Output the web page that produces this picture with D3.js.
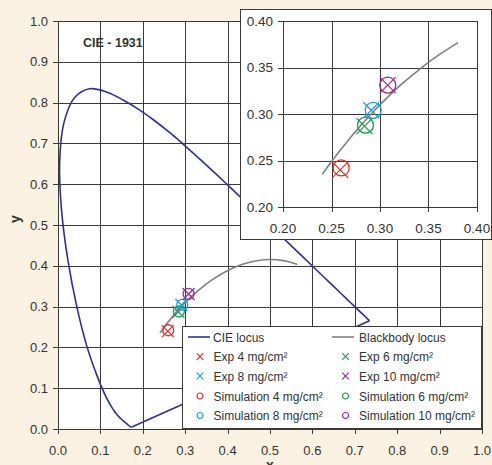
<!DOCTYPE html>
<html>
<head>
<meta charset="utf-8">
<script src="https://cdn.jsdelivr.net/npm/d3@7"></script>
<style>
  html, body { margin: 0; padding: 0; background: #fcf2e1; }
  svg { display: block; font-family: Arial, "Liberation Sans", sans-serif; }
</style>
</head>
<body>
<script>
// CIE 1931 spectral locus, 380..700 nm (5 nm steps)
var cieX = [0.1741, 0.1740, 0.1738, 0.1736, 0.1733, 0.1730, 0.1726, 0.1721, 0.1714, 0.1703,
    0.1689, 0.1669, 0.1644, 0.1611, 0.1566, 0.1510, 0.1440, 0.1355, 0.1241, 0.1096,
    0.0913, 0.0687, 0.0454, 0.0235, 0.0082, 0.0039, 0.0139, 0.0389, 0.0743, 0.1142,
    0.1547, 0.1929, 0.2296, 0.2658, 0.3016, 0.3373, 0.3731, 0.4087, 0.4441, 0.4788,
    0.5125, 0.5448, 0.5752, 0.6029, 0.6270, 0.6482, 0.6658, 0.6801, 0.6915, 0.7006,
    0.7079, 0.7140, 0.7190, 0.7230, 0.7260, 0.7283, 0.7300, 0.7311, 0.7320, 0.7327,
    0.7334, 0.7340, 0.7344, 0.7346, 0.7347];
var cieY = [0.0050, 0.0050, 0.0049, 0.0049, 0.0048, 0.0048, 0.0048, 0.0048, 0.0051, 0.0058,
    0.0069, 0.0086, 0.0109, 0.0138, 0.0177, 0.0227, 0.0297, 0.0399, 0.0578, 0.0868,
    0.1327, 0.2007, 0.2950, 0.4127, 0.5384, 0.6548, 0.7502, 0.8120, 0.8338, 0.8262,
    0.8059, 0.7816, 0.7543, 0.7243, 0.6923, 0.6589, 0.6245, 0.5896, 0.5547, 0.5202,
    0.4866, 0.4544, 0.4242, 0.3965, 0.3725, 0.3514, 0.3340, 0.3197, 0.3083, 0.2993,
    0.2920, 0.2859, 0.2809, 0.2770, 0.2740, 0.2717, 0.2700, 0.2689, 0.2680, 0.2673,
    0.2666, 0.2660, 0.2656, 0.2654, 0.2653];

// blackbody locus, infinite T down to ~1667 K
var bbX = [0.2404, 0.2457, 0.2525, 0.2602, 0.2686, 0.2807, 0.2952, 0.3064, 0.3220, 0.3450,
    0.3607, 0.3805, 0.4053, 0.4366, 0.4593, 0.4857, 0.5032, 0.5269, 0.5438, 0.5646];
var bbY = [0.2351, 0.2427, 0.2523, 0.2626, 0.2735, 0.2883, 0.3048, 0.3166, 0.3318, 0.3516,
    0.3635, 0.3767, 0.3909, 0.4042, 0.4107, 0.4147, 0.4153, 0.4133, 0.4097, 0.4029];

// samples: 4, 6, 8, 10 mg/cm2
var doses = ["4", "6", "8", "10"];
var expX = [0.259, 0.284, 0.291, 0.308];
var expY = [0.240, 0.287, 0.304, 0.331];
var simX = [0.260, 0.285, 0.293, 0.308];
var simY = [0.242, 0.288, 0.304, 0.331];
var colors = ["#ee2a24", "#11a04b", "#1b9ce0", "#9c2a96"];

var mainTicks = d3.range(0, 11).map((i) => i / 10);
var insetTicks = [0.20, 0.25, 0.30, 0.35, 0.40];

var width = 492, height = 465;
var svg = d3.select("body").append("svg").attr("width", width).attr("height", height);
svg.append("rect").attr("width", width).attr("height", height).attr("fill", "#fcf2e1");

var gridColor = "#3a3a3a";
var locusColor = "#2e3192";

var cie = cieX.map((x, i) => ({x: x, y: cieY[i]}));
var purple = [cie[cie.length - 1], cie[0]];
var bb = bbX.map((x, i) => ({x: x, y: bbY[i]}));
var exp = expX.map((x, i) => ({x: x, y: expY[i], c: colors[i]}));
var sim = simX.map((x, i) => ({x: x, y: simY[i], c: colors[i]}));

function drawPlot(g, x, y, ticks, fmt, opt) {
    var x0 = x.range()[0], x1 = x.range()[1], y0 = y.range()[0], y1 = y.range()[1];
    g.append("rect").attr("x", x0).attr("y", y1).attr("width", x1 - x0).attr("height", y0 - y1)
        .attr("fill", "white");
    // grid
    g.append("g").selectAll("line").data(ticks).enter().append("line")
        .attr("x1", (d) => Math.round(x(d)) + 0.5).attr("x2", (d) => Math.round(x(d)) + 0.5)
        .attr("y1", y1).attr("y2", y0 + 5)
        .attr("stroke", gridColor).attr("stroke-width", 1);
    g.append("g").selectAll("line").data(ticks).enter().append("line")
        .attr("y1", (d) => Math.round(y(d)) + 0.5).attr("y2", (d) => Math.round(y(d)) + 0.5)
        .attr("x1", x0 - 5).attr("x2", x1)
        .attr("stroke", gridColor).attr("stroke-width", 1);
    // tick labels
    g.append("g").selectAll("text").data(ticks).enter().append("text")
        .attr("x", x0 - 10).attr("y", (d) => y(d) + 4.5)
        .attr("text-anchor", "end").attr("font-size", opt.fs).attr("fill", "#333")
        .text(fmt);
    g.append("g").selectAll("text").data(ticks).enter().append("text")
        .attr("x", (d) => x(d)).attr("y", y0 + opt.xlab)
        .attr("text-anchor", "middle").attr("font-size", opt.fs).attr("fill", "#333")
        .text(fmt);

    var clipId = "clip" + opt.id;
    g.append("clipPath").attr("id", clipId).append("rect")
        .attr("x", x0).attr("y", y1).attr("width", x1 - x0).attr("height", y0 - y1);
    var body = g.append("g").attr("clip-path", "url(#" + clipId + ")");
    var line = d3.line().x((d) => x(d.x)).y((d) => y(d.y));
    var smooth = d3.line().x((d) => x(d.x)).y((d) => y(d.y)).curve(d3.curveCatmullRom.alpha(0.5));
    if (opt.cie) {
        body.append("path").attr("d", smooth(cie)).attr("fill", "none")
            .attr("stroke", locusColor).attr("stroke-width", 1.6);
        body.append("path").attr("d", line(purple)).attr("fill", "none")
            .attr("stroke", locusColor).attr("stroke-width", 1.6);
    }
    body.append("path").attr("d", smooth(opt.bb)).attr("fill", "none")
        .attr("stroke", "#808080").attr("stroke-width", 1.6);

    var r = opt.r;
    body.append("g").selectAll("circle").data(sim).enter().append("circle")
        .attr("cx", (d) => x(d.x)).attr("cy", (d) => y(d.y)).attr("r", r)
        .attr("fill", "none").attr("stroke", (d) => d.c).attr("stroke-width", 1.3);
    var k = opt.k;
    body.append("g").selectAll("path").data(exp).enter().append("path")
        .attr("d", (d) => "M" + (x(d.x) - k) + "," + (y(d.y) - k) + "L" + (x(d.x) + k) + "," + (y(d.y) + k) +
            "M" + (x(d.x) - k) + "," + (y(d.y) + k) + "L" + (x(d.x) + k) + "," + (y(d.y) - k))
        .attr("fill", "none").attr("stroke", (d) => d.c).attr("stroke-width", 1.2);

    g.append("rect").attr("x", x0 + 0.5).attr("y", y1 + 0.5).attr("width", x1 - x0).attr("height", y0 - y1)
        .attr("fill", "none").attr("stroke", gridColor).attr("stroke-width", 1);
}

// main chart
var x = d3.scaleLinear().domain([0, 1]).range([58, 482]);
var y = d3.scaleLinear().domain([0, 1]).range([429, 21]);
var main = svg.append("g");
drawPlot(main, x, y, mainTicks, d3.format(".1f"), {id: "main", fs: 13, xlab: 26, r: 5.5, k: 6, cie: true, bb: bb});

main.append("text").attr("x", 83).attr("y", 47).attr("font-size", 12.5).attr("font-weight", "bold")
    .attr("fill", "#333").text("CIE - 1931");
main.append("text").attr("transform", "translate(20,219) rotate(-90)").attr("text-anchor", "middle")
    .attr("font-size", 14).attr("font-weight", "bold").attr("fill", "#333").text("y");
main.append("text").attr("x", 270).attr("y", 470).attr("text-anchor", "middle")
    .attr("font-size", 14).attr("font-weight", "bold").attr("fill", "#333").text("x");

// legend
var legend = svg.append("g");
legend.append("rect").attr("x", 182.5).attr("y", 326.5).attr("width", 299).attr("height", 102)
    .attr("fill", "white").attr("stroke", gridColor);
var rowY = [337, 356.5, 376, 396, 415.5];
var colX = [200, 345.5];
legend.append("line").attr("x1", 188).attr("x2", 210).attr("y1", rowY[0]).attr("y2", rowY[0])
    .attr("stroke", locusColor).attr("stroke-width", 1.6);
legend.append("text").attr("x", 213).attr("y", rowY[0] + 4.5).attr("font-size", 12).attr("fill", "#333").text("CIE locus");
legend.append("line").attr("x1", 332).attr("x2", 354).attr("y1", rowY[0]).attr("y2", rowY[0])
    .attr("stroke", "#808080").attr("stroke-width", 1.6);
legend.append("text").attr("x", 359).attr("y", rowY[0] + 4.5).attr("font-size", 12).attr("fill", "#333").text("Blackbody locus");

var items = [];
doses.forEach((d, i) => items.push({kind: "x", label: "Exp " + d + " mg/cm²", c: colors[i], i: i}));
doses.forEach((d, i) => items.push({kind: "o", label: "Simulation " + d + " mg/cm²", c: colors[i], i: i + 4}));
var it = legend.selectAll("g.item").data(items).enter().append("g").attr("class", "item")
    .attr("transform", (d) => "translate(" + colX[d.i % 2] + "," + rowY[1 + Math.floor(d.i / 2)] + ")");
it.filter((d) => d.kind == "x").append("path").attr("d", "M-3.3,-3.3L3.3,3.3M-3.3,3.3L3.3,-3.3")
    .attr("stroke", (d) => d.c).attr("stroke-width", 1.2).attr("fill", "none");
it.filter((d) => d.kind == "o").append("circle").attr("r", 3)
    .attr("stroke", (d) => d.c).attr("stroke-width", 1.2).attr("fill", "none");
it.append("text").attr("x", 13.5).attr("y", 4.5).attr("font-size", 12).attr("fill", "#333").text((d) => d.label);

// inset
var inset = svg.append("g");
inset.append("rect").attr("x", 240.5).attr("y", 9.5).attr("width", 251).attr("height", 230)
    .attr("fill", "white").attr("stroke", gridColor);
var ix = d3.scaleLinear().domain([0.2, 0.4]).range([283, 477]);
var iy = d3.scaleLinear().domain([0.2, 0.4]).range([207, 21]);
drawPlot(inset, ix, iy, insetTicks, d3.format(".2f"), {id: "inset", fs: 13.5, xlab: 26, r: 8, k: 8, cie: false,
    bb: bb.filter((d) => d.x <= 0.381)});
</script>
</body>
</html>
